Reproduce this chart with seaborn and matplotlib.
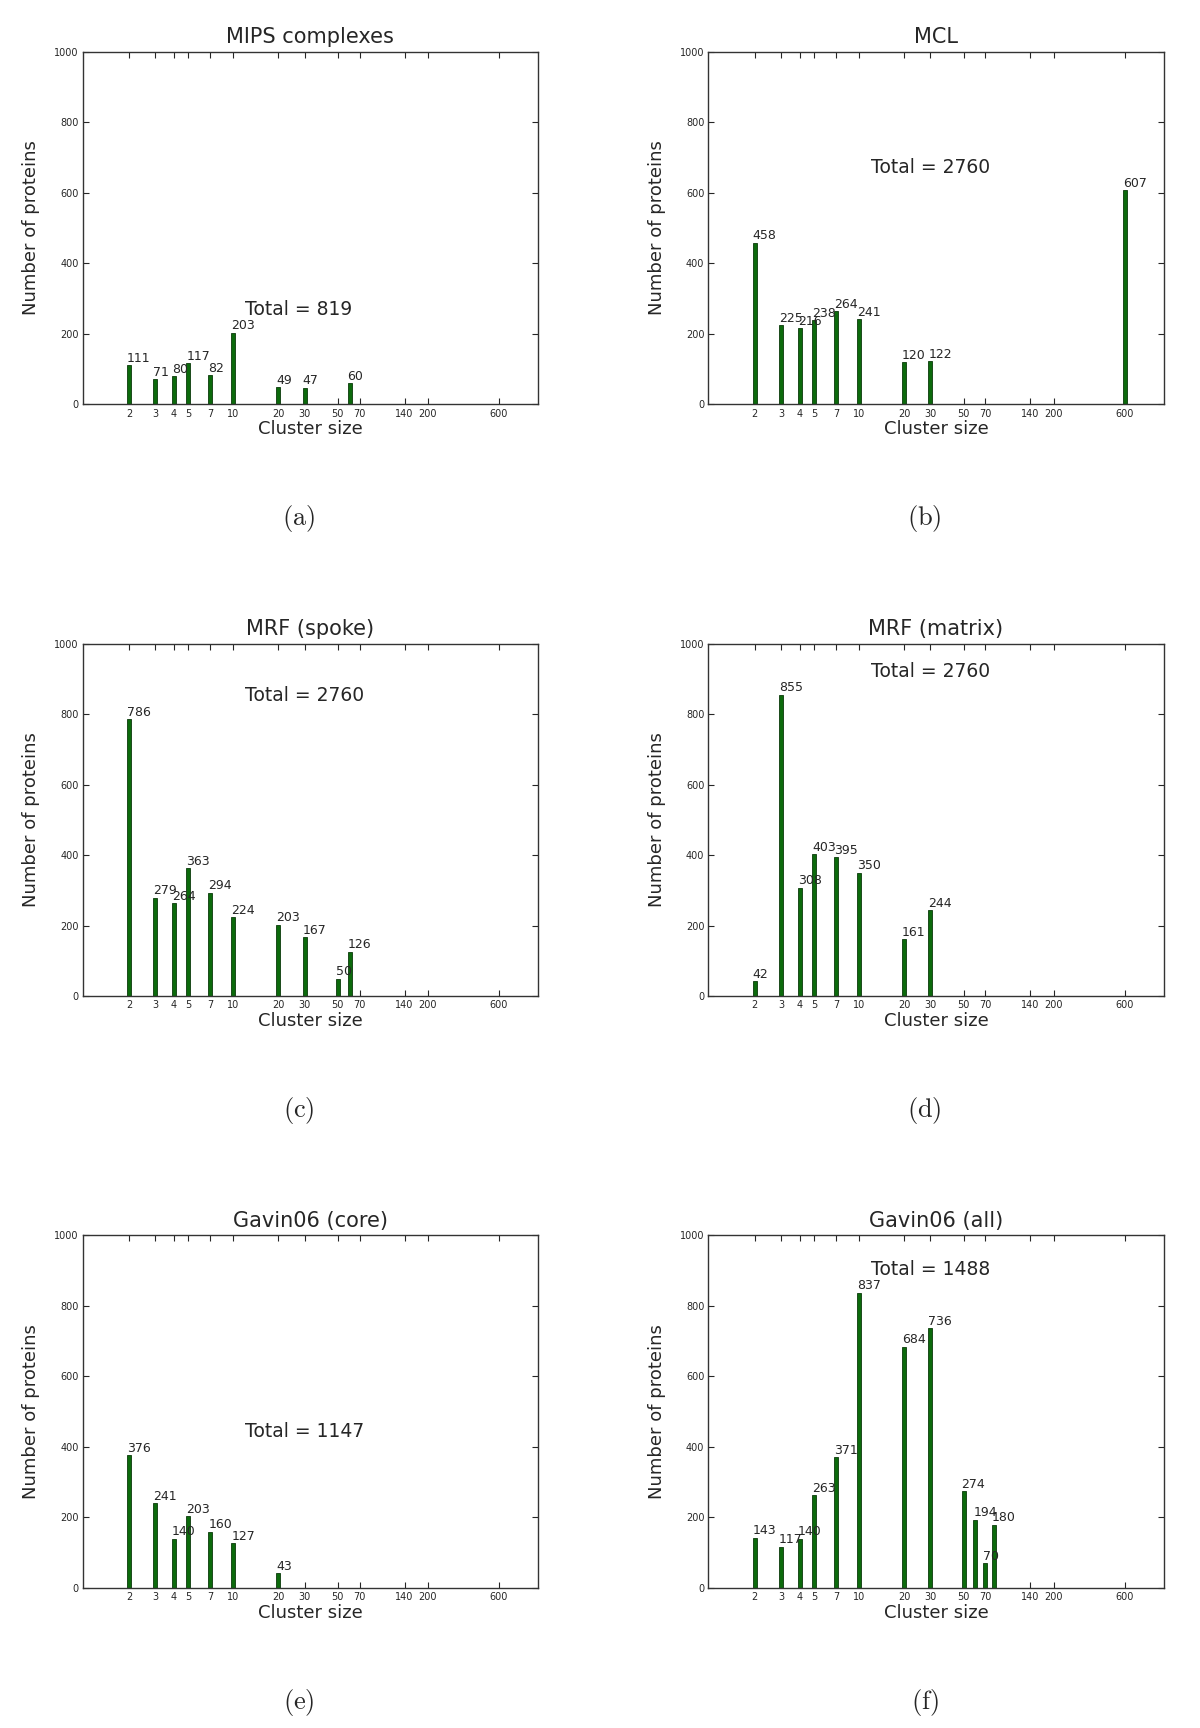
import numpy as np
import seaborn as sns
import matplotlib.pyplot as plt

sns.set_style("ticks")
plt.rcParams['font.family'] = ['DejaVu Sans']
plt.rcParams['mathtext.fontset'] = 'cm'

# data
titles = ["MIPS complexes", "MCL", "MRF (spoke)", "MRF (matrix)", "Gavin06 (core)", "Gavin06 (all)"]
totals = [819, 2760, 2760, 2760, 1147, 1488]
total_y = [269, 672, 853, 922, 444, 903]
panel_labels = ["a", "b", "c", "d", "e", "f"]

mips_sizes = [2, 3, 4, 5, 7, 10, 20, 30, 60]
mips_counts = [111, 71, 80, 117, 82, 203, 49, 47, 60]

mcl_sizes = [2, 3, 4, 5, 7, 10, 20, 30, 600]
mcl_counts = [458, 225, 216, 238, 264, 241, 120, 122, 607]

spoke_sizes = [2, 3, 4, 5, 7, 10, 20, 30, 50, 60]
spoke_counts = [786, 279, 264, 363, 294, 224, 203, 167, 50, 126]

matrix_sizes = [2, 3, 4, 5, 7, 10, 20, 30]
matrix_counts = [42, 855, 308, 403, 395, 350, 161, 244]

core_sizes = [2, 3, 4, 5, 7, 10, 20]
core_counts = [376, 241, 140, 203, 160, 127, 43]

all_sizes = [2, 3, 4, 5, 7, 10, 20, 30, 50, 60, 70, 80]
all_counts = [143, 117, 140, 263, 371, 837, 684, 736, 274, 194, 70, 180]

xticks = [2, 3, 4, 5, 7, 10, 20, 30, 50, 70, 140, 200, 600]

sizes = [mips_sizes, mcl_sizes, spoke_sizes, matrix_sizes, core_sizes, all_sizes]
counts = [mips_counts, mcl_counts, spoke_counts, matrix_counts, core_counts, all_counts]

fig = plt.figure(figsize=(12, 17.28), dpi=100)

lefts = [0.0689, 0.5904]
bottoms = [0.766, 0.4235, 0.081]
w, h = 0.3792, 0.2041
bar_w = 0.027      # bar width in decades

for i in range(6):
    row, col = i // 2, i % 2
    ax = fig.add_axes([lefts[col], bottoms[row], w, h])
    ax.set_xscale('log')
    lx = np.log10(sizes[i])
    rel = bar_w / np.min(np.diff(np.sort(lx)))   # seaborn width is relative to min spacing
    sns.barplot(x=sizes[i], y=counts[i], native_scale=True, orient='x', ax=ax,
                color='#0c6a0c', saturation=1, edgecolor='#0a3a0a', linewidth=0.6,
                width=rel, errorbar=None)
    for s, c in zip(sizes[i], counts[i]):
        ax.text(s * 10 ** (-bar_w / 2), c + 1, str(c), ha='left', va='bottom', fontsize=9)
    ax.text(12, total_y[i], "Total = %d" % totals[i], ha='left', va='center', fontsize=13.5)

    ax.set_xlim(0.98, 1090)
    ax.set_ylim(0, 1000)
    ax.set_xticks(xticks)
    ax.set_xticklabels([str(t) for t in xticks])
    ax.minorticks_off()
    ax.set_yticks(range(0, 1001, 200))
    ax.tick_params(direction='in', top=True, right=True, labelsize=7, length=4, pad=3, width=0.8)
    for sp in ax.spines.values():
        sp.set_visible(True)
        sp.set_linewidth(1.0)
        sp.set_color('#333333')
    ax.set_title(titles[i], fontsize=15, pad=6)
    ax.set_xlabel("Cluster size", fontsize=13, labelpad=1)
    ax.set_ylabel("Number of proteins", fontsize=13, labelpad=10)

    cx = lefts[col] + w / 2 - 0.0095
    fig.text(cx, bottoms[row] - 0.066,
             r'$(\mathrm{%s})$' % panel_labels[i], ha='center', va='center', fontsize=19)

fig.savefig("out.png", dpi=100)
